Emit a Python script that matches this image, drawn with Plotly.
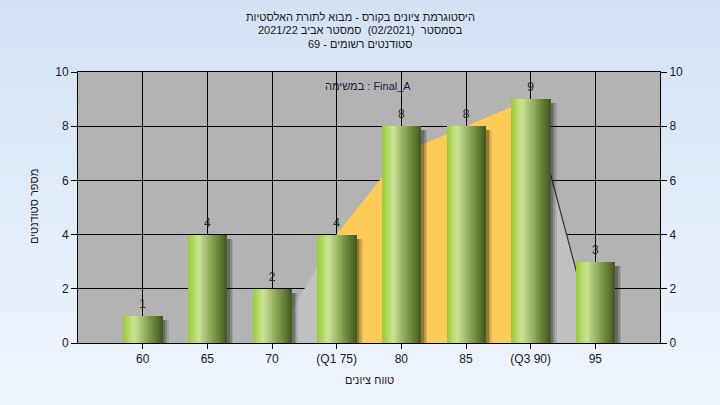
import plotly.graph_objects as go

# ---- data ----
categories = ["60", "65", "70", "(Q1 75)", "80", "85", "(Q3 90)", "95"]
counts = [1, 4, 2, 4, 8, 8, 9, 3]
curve = [0, 0, 0, 4, 7, 8, 9, 0]          # background distribution outline
q1_idx, q3_idx = 3, 6                     # Q1 .. Q3 range (orange band)
y_ticks = [0, 2, 4, 6, 8, 10]

title_lines = [
    "היסטוגרמת ציונים בקורס - מבוא לתורת האלסטיות",
    "בסמסטר  (02/2021)  סמסטר אביב 2021/22",
    "סטודנטים רשומים - 69",
]
series_label = "במשימה : Final_A"
x_title = "טווח ציונים"
y_title = "מספר סטודנטים"

FONT = "Liberation Sans, Arial, sans-serif"
W, H = 720, 405
ML, MR, MT, MB = 78, 60, 72, 62
PW, PH = W - ML - MR, H - MT - MB

fig = go.Figure()

# ---- background area (base subplot: below bars) ----
fig.add_trace(go.Scatter(
    x=categories, y=curve, mode="lines", fill="tozeroy",
    fillcolor="#c0c0c0", line=dict(width=0, color="#c0c0c0"),
    hoverinfo="skip", showlegend=False, xaxis="x", yaxis="y"))
fig.add_trace(go.Scatter(
    x=categories[q1_idx:q3_idx + 1], y=curve[q1_idx:q3_idx + 1], mode="lines",
    fill="tozeroy", fillcolor="#fecb57", line=dict(width=0, color="#fecb57"),
    hoverinfo="skip", showlegend=False, xaxis="x", yaxis="y"))
fig.add_trace(go.Scatter(
    x=categories[q3_idx:], y=curve[q3_idx:], mode="lines",
    line=dict(width=1.2, color="#333333"),
    hoverinfo="skip", showlegend=False, xaxis="x", yaxis="y"))

# ---- bar shadows (y2: shifted slightly down) ----
for off, alpha in [(0.10, 0.10), (0.075, 0.16), (0.05, 0.22)]:
    fig.add_trace(go.Bar(
        x=categories, y=counts, width=0.6, offset=-0.3 + off,
        marker=dict(color=f"rgba(0,0,0,{alpha})", line=dict(width=0)),
        hoverinfo="skip", showlegend=False, xaxis="x", yaxis="y2"))

# ---- gradient cylinder bars (y3) ----
stops = [(0.0, (0x9c, 0xca, 0x38)), (0.12, (0xaf, 0xd6, 0x5a)),
         (0.27, (0xc9, 0xe3, 0x95)), (0.40, (0xb6, 0xcd, 0x80)),
         (0.60, (0x8c, 0xa5, 0x58)), (0.80, (0x66, 0x80, 0x38)),
         (1.0, (0x44, 0x5a, 0x20))]

def grad_color(t):
    for (t0, c0), (t1, c1) in zip(stops[:-1], stops[1:]):
        if t0 <= t <= t1:
            f = (t - t0) / (t1 - t0)
            return "rgb(%d,%d,%d)" % tuple(round(c0[j] + (c1[j] - c0[j]) * f) for j in range(3))
    return "rgb(68,90,32)"

n = 40
for i in range(n):
    start = -0.3 + 0.6 * i / n
    fig.add_trace(go.Bar(
        x=categories, y=counts, width=0.3 - start, offset=start,
        marker=dict(color=grad_color((i + 0.5) / n), line=dict(width=0)),
        hoverinfo="skip", showlegend=False, xaxis="x", yaxis="y3"))

# value labels (y4: same scale, nudged up a few pixels)
fig.add_trace(go.Scatter(
    x=categories, y=counts, mode="text", text=[str(v) for v in counts],
    textposition="middle center", textfont=dict(family=FONT, size=12, color="#2a2a2a"),
    hoverinfo="skip", showlegend=False, xaxis="x", yaxis="y4", cliponaxis=False))

# ---- background gradient + plot bg as shapes ----
shapes = []
nstripes = 40
top_c = (0xd3, 0xe1, 0xf3)
bot_c = (0xef, 0xf5, 0xfd)
y_lo, y_hi = -MB / PH - 0.01, 1 + MT / PH + 0.01
for k in range(nstripes):
    t = k / (nstripes - 1)
    col = tuple(round(top_c[j] + (bot_c[j] - top_c[j]) * t) for j in range(3))
    y1 = y_hi - (y_hi - y_lo) * k / nstripes
    y0 = y_hi - (y_hi - y_lo) * (k + 1) / nstripes
    shapes.append(dict(type="rect", xref="paper", yref="paper",
                       x0=-ML / PW - 0.01, x1=1 + MR / PW + 0.01,
                       y0=y0 - 0.003, y1=y1 + 0.003,
                       fillcolor="rgb(%d,%d,%d)" % col, line=dict(width=0),
                       layer="below"))
shapes.append(dict(type="rect", xref="paper", yref="paper", x0=0, x1=1, y0=0, y1=1,
                   fillcolor="#b3b3b3", line=dict(width=0), layer="below"))

# ---- annotations ----
def py(Y):
    return (H - MB - Y) / PH

def px(X):
    return (X - ML) / PW

HEB = 11
annotations = []
for Y, line in zip([17.5, 30.5, 43.5], title_lines):
    annotations.append(dict(text=line, x=px(360), y=py(Y), xref="paper", yref="paper",
                            xanchor="center", yanchor="middle", showarrow=False,
                            font=dict(family=FONT, size=HEB, color="#1a1a1a")))
annotations.append(dict(text=series_label, x=px(368), y=py(86), xref="paper", yref="paper",
                        xanchor="center", yanchor="middle", showarrow=False,
                        font=dict(family=FONT, size=HEB, color="#2a1840")))
annotations.append(dict(text=x_title, x=px(369), y=py(380), xref="paper", yref="paper",
                        xanchor="center", yanchor="middle", showarrow=False,
                        font=dict(family=FONT, size=HEB, color="#1a1a1a")))
annotations.append(dict(text=y_title, x=px(34), y=py(207), xref="paper", yref="paper",
                        xanchor="center", yanchor="middle", showarrow=False, textangle=-90,
                        font=dict(family=FONT, size=HEB, color="#1a1a1a")))

tickfont = dict(family=FONT, size=12, color="#1a1a1a")
fig.update_layout(
    width=W, height=H,
    margin=dict(l=ML, r=MR, t=MT, b=MB, pad=0),
    paper_bgcolor="#e2ecf8", plot_bgcolor="rgba(0,0,0,0)",
    barmode="overlay", bargap=0,
    showlegend=False,
    shapes=shapes, annotations=annotations,
    xaxis=dict(type="category", categoryorder="array", categoryarray=categories,
               range=[-1, 8], showgrid=True, gridcolor="#000000", gridwidth=1,
               showline=True, linecolor="#000000", linewidth=1, mirror=True,
               ticks="outside", ticklen=5, tickcolor="#000000", tickfont=tickfont,
               zeroline=False),
    yaxis=dict(range=[0, 10], tickvals=y_ticks, showgrid=True, gridcolor="#000000",
               gridwidth=1, showline=True, linecolor="#000000", linewidth=1,
               ticks="outside", ticklen=6, tickcolor="#000000", tickfont=tickfont,
               zeroline=False),
    yaxis2=dict(range=[0.15, 10.15], overlaying="y", visible=False, showgrid=False,
                zeroline=False),
    yaxis3=dict(range=[0, 10], overlaying="y", side="right", tickvals=y_ticks,
                showgrid=False, showline=True, linecolor="#000000", linewidth=1,
                ticks="outside", ticklen=6, tickcolor="#000000", tickfont=tickfont,
                zeroline=False),
    yaxis4=dict(range=[-0.4, 9.6], overlaying="y", visible=False, showgrid=False,
                zeroline=False),
)

fig.write_html("out.html", config={"displayModeBar": False},
               post_script="document.body.style.margin='0';document.body.style.overflow='hidden';")
